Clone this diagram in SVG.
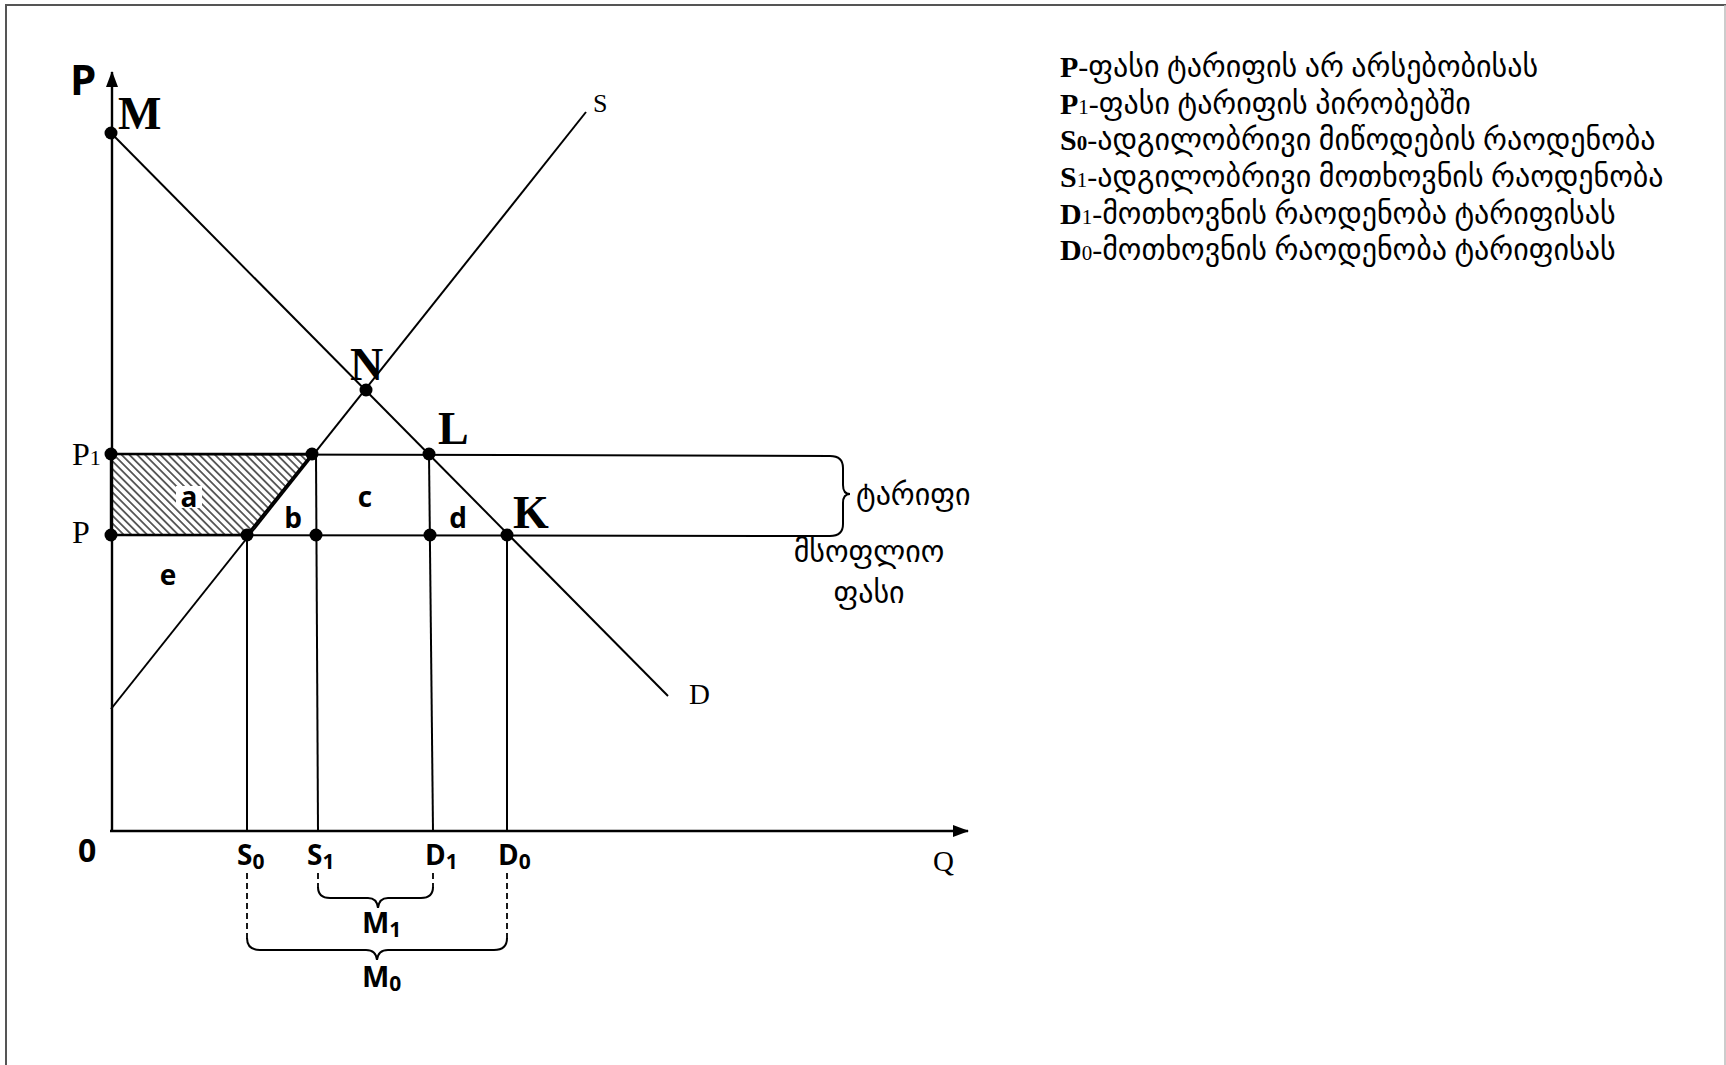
<svg xmlns="http://www.w3.org/2000/svg" width="1726" height="1065" viewBox="0 0 1726 1065">
<style>
.ln{stroke:#000;stroke-width:2.4;fill:none}
.thin{stroke:#000;stroke-width:2;fill:none}
.dash{stroke:#000;stroke-width:1.8;fill:none;stroke-dasharray:6,4}
.dot{fill:#000}
.ser{font-family:"Liberation Serif","Times New Roman",serif;fill:#000}
.serb{font-family:"Liberation Serif","Times New Roman",serif;font-weight:bold;fill:#000}
.sb{font-family:"Open Sans","Liberation Sans",sans-serif;font-weight:bold;fill:#000}
.geo{font-family:"DejaVu Sans",sans-serif;fill:#000}
.leg{font-family:"Liberation Serif","DejaVu Sans",serif;font-size:30px;fill:#000}
</style>
<defs>
<pattern id="hatch" patternUnits="userSpaceOnUse" width="5.5" height="5.5" patternTransform="rotate(-45)">
<rect width="5.5" height="5.5" fill="#fff"/>
<rect x="0" y="0" width="1.8" height="5.5" fill="#555"/>
</pattern>
<marker id="arr" viewBox="0 0 16 12" refX="15" refY="6" markerWidth="16" markerHeight="12" markerUnits="userSpaceOnUse" orient="auto">
<path d="M0,0 L16,6 L0,12 Z" fill="#000"/>
</marker>
</defs>
<rect width="1726" height="1065" fill="#fff"/>
<path d="M6,1065 L6,5 L1726,5" stroke="#555" stroke-width="2" fill="none"/>
<line x1="1725" y1="5" x2="1725" y2="1065" stroke="#bbb" stroke-width="1.5"/>

<g id="surplus-a">
<polygon points="111,454 312,454 247,535 111,535" fill="url(#hatch)" stroke="#000" stroke-width="2.4"/>
<rect x="176" y="486" width="26" height="22" fill="#fff"/>
</g>

<g id="connectors">
<line class="ln" x1="112" y1="831" x2="112" y2="72" marker-end="url(#arr)"/>
<line class="ln" x1="110" y1="831" x2="968" y2="831" marker-end="url(#arr)"/>
<line class="thin" x1="111" y1="709" x2="586" y2="112"/>
<line class="thin" x1="111" y1="133" x2="668" y2="696"/>
<line class="thin" x1="111" y1="454" x2="830" y2="456"/>
<line class="thin" x1="111" y1="535" x2="830" y2="536"/>
<line class="thin" x1="247" y1="535" x2="247" y2="831"/>
<line class="thin" x1="316" y1="454" x2="318" y2="831"/>
<line class="thin" x1="429" y1="454" x2="433" y2="831"/>
<line class="thin" x1="507" y1="535" x2="507" y2="831"/>
<path class="thin" d="M830,456 Q843,456 843,468 L843,485 Q843,494 850,494 Q843,494 843,503 L843,524 Q843,536 830,536"/>
<line class="dash" x1="318" y1="873" x2="318" y2="888"/>
<line class="dash" x1="433" y1="873" x2="433" y2="888"/>
<path class="thin" d="M318,887 Q318,898 330,898 L368,898 Q377,898 378,908 Q379,898 388,898 L421,898 Q433,898 433,887"/>
<line class="dash" x1="247" y1="873" x2="247" y2="939"/>
<line class="dash" x1="507" y1="873" x2="507" y2="939"/>
<path class="thin" d="M247,938 Q247,950 260,950 L366,950 Q376,950 377,960 Q378,950 388,950 L494,950 Q507,950 507,938"/>
</g>

<g id="points">
<circle class="dot" cx="111" cy="133" r="6.5"/>
<circle class="dot" cx="366" cy="390" r="6.5"/>
<circle class="dot" cx="111" cy="454" r="6.5"/>
<circle class="dot" cx="312" cy="454" r="6.5"/>
<circle class="dot" cx="429" cy="454" r="6.5"/>
<circle class="dot" cx="111" cy="535" r="6.5"/>
<circle class="dot" cx="247" cy="535" r="6.5"/>
<circle class="dot" cx="316" cy="535" r="6.5"/>
<circle class="dot" cx="430" cy="535" r="6.5"/>
<circle class="dot" cx="507" cy="535" r="6.5"/>
</g>

<g id="labels">
<text class="sb" x="70" y="95" font-size="42" font-family="Liberation Sans">P</text>
<text class="serb" x="118" y="129" font-size="46">M</text>
<text class="serb" x="350" y="380" font-size="46">N</text>
<text class="serb" x="438" y="444" font-size="46">L</text>
<text class="serb" x="513" y="528" font-size="46">K</text>
<text class="ser" x="593" y="112" font-size="26">S</text>
<text class="ser" x="689" y="704" font-size="29">D</text>
<text class="ser" x="933" y="871" font-size="29">Q</text>
<text class="ser" x="72" y="465" font-size="32">P<tspan font-size="22">1</tspan></text>
<text class="ser" x="72" y="543" font-size="32">P</text>
<text class="sb" x="189" y="507" font-size="28" text-anchor="middle">a</text>
<text class="sb" x="293" y="528" font-size="28" text-anchor="middle">b</text>
<text class="sb" x="365" y="507" font-size="28" text-anchor="middle">c</text>
<text class="sb" x="458" y="528" font-size="28" text-anchor="middle">d</text>
<text class="sb" x="168" y="585" font-size="28" text-anchor="middle">e</text>
<text class="sb" x="78" y="862" font-size="32">0</text>
<text class="sb" x="237" y="865" font-size="28">S<tspan font-size="21" dy="4">0</tspan></text>
<text class="sb" x="307" y="865" font-size="28">S<tspan font-size="21" dy="4">1</tspan></text>
<text class="sb" x="425" y="865" font-size="28">D<tspan font-size="21" dy="4">1</tspan></text>
<text class="sb" x="498" y="865" font-size="28">D<tspan font-size="21" dy="4">0</tspan></text>
<text class="sb" x="362" y="933" font-size="29">M<tspan font-size="21" dy="4">1</tspan></text>
<text class="sb" x="362" y="987" font-size="29">M<tspan font-size="21" dy="4">0</tspan></text>
<text class="geo" x="856" y="505" font-size="30">ტარიფი</text>
<text class="geo" x="869" y="562" font-size="30" text-anchor="middle">მსოფლიო</text>
<text class="geo" x="869" y="603" font-size="30" text-anchor="middle">ფასი</text>
</g>

<g id="legend">
<text class="leg" x="1060" y="77"><tspan font-weight="bold">P</tspan>-ფასი ტარიფის არ არსებობისას</text>
<text class="leg" x="1060" y="114"><tspan font-weight="bold">P</tspan><tspan font-size="21">1</tspan>-ფასი ტარიფის პირობებში</text>
<text class="leg" x="1060" y="150"><tspan font-weight="bold">S</tspan><tspan font-weight="bold" font-size="21">0</tspan>-ადგილობრივი მიწოდების რაოდენობა</text>
<text class="leg" x="1060" y="187"><tspan font-weight="bold">S</tspan><tspan font-size="21">1</tspan>-ადგილობრივი მოთხოვნის რაოდენობა</text>
<text class="leg" x="1060" y="224"><tspan font-weight="bold">D</tspan><tspan font-size="21">1</tspan>-მოთხოვნის რაოდენობა ტარიფისას</text>
<text class="leg" x="1060" y="260"><tspan font-weight="bold">D</tspan><tspan font-size="21">0</tspan>-მოთხოვნის რაოდენობა ტარიფისას</text>
</g>
</svg>
